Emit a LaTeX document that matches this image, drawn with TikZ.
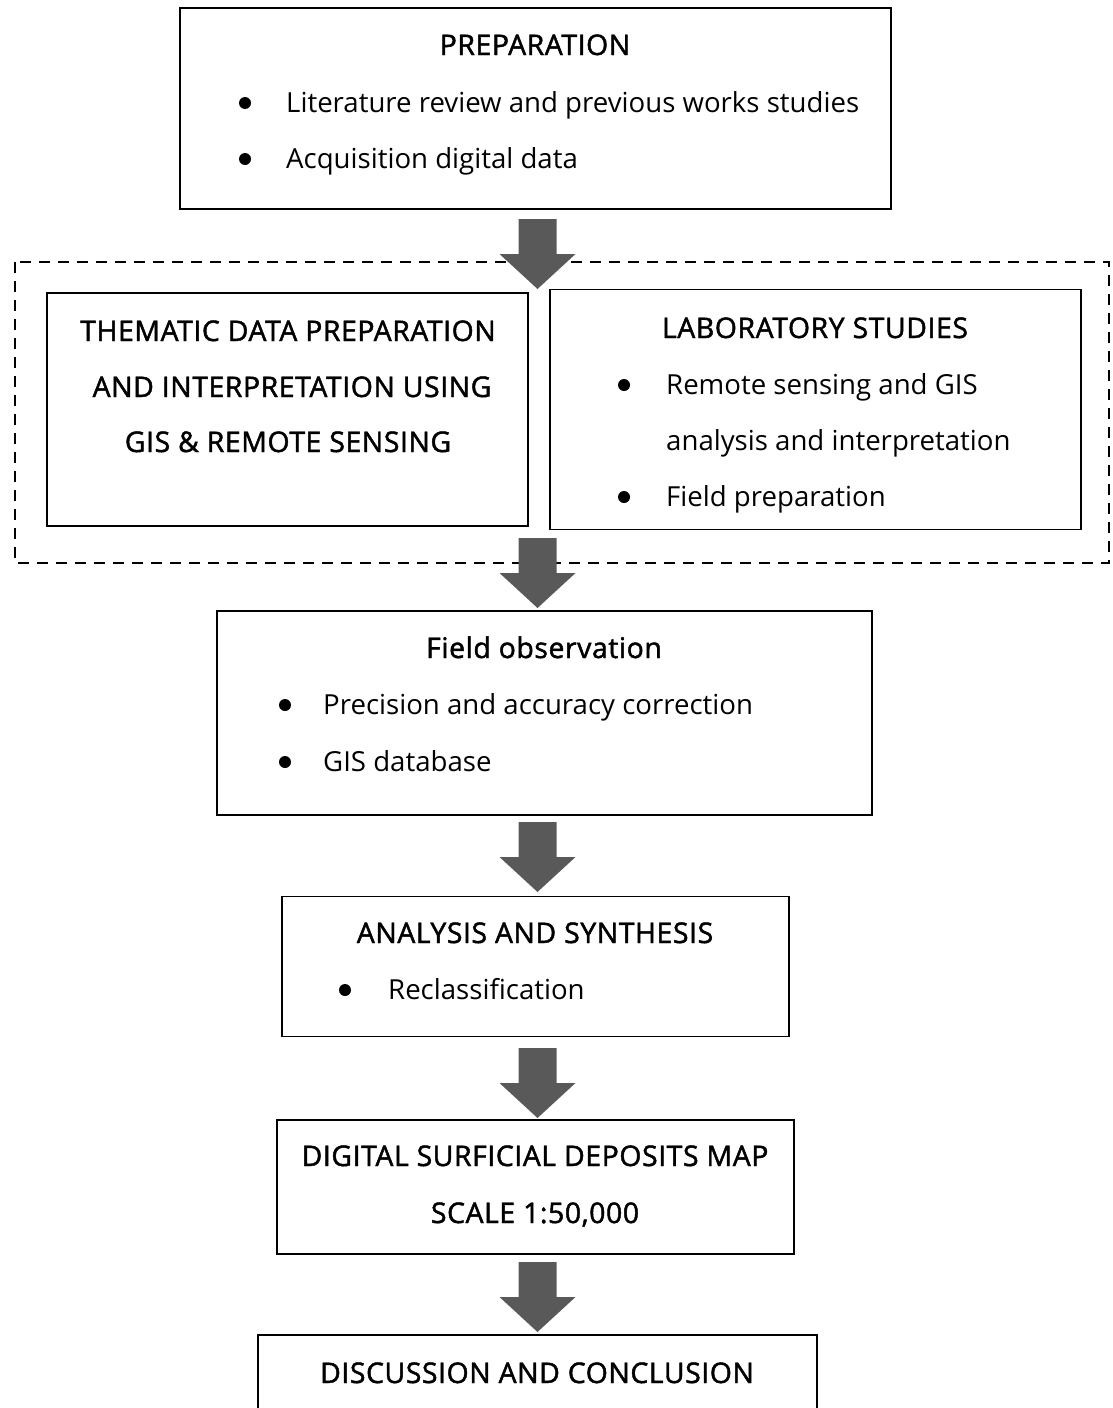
\documentclass[tikz,border=0pt]{standalone}
\usepackage{fontspec}
\setmainfont{Open Sans}
\newfontfamily\ttlfont[FakeBold=1.6,LetterSpace=2]{Open Sans}
\definecolor{arrowgray}{HTML}{595959}
\begin{document}
\begin{tikzpicture}[x=1pt,y=-1pt,
  box/.style={draw=black,line width=1.4pt,inner sep=0pt},
  dashbox/.style={draw=black,line width=2.2pt,dash pattern=on 11pt off 8pt},
  txt/.style={inner sep=0pt,font=\fontsize{27.6}{32}\selectfont},
  ttl/.style={inner sep=0pt,anchor=base,font=\ttlfont\fontsize{28.4}{32}\selectfont},
  itm/.style={txt,anchor=base west},
  dot/.style={fill=black,circle,inner sep=0pt,minimum size=12pt},
  blockarrow/.pic={\fill[arrowgray] (-19,0) -- (19,0) -- (19,35) -- (38,35) -- (0,70) -- (-38,35) -- (-19,35) -- cycle;}]
\useasboundingbox (0,0) rectangle (1113,1408);
% dashed group
\draw[dashbox] (15,262) rectangle (1109,563);
% boxes
\node[box,minimum width=711pt,minimum height=201pt] (prep) at (535.5,108.5) {};
\node[box,minimum width=481pt,minimum height=233pt] (them) at (287.5,409.5) {};
\node[box,minimum width=531pt,minimum height=240pt] (lab) at (815.5,409.5) {};
\node[box,minimum width=655pt,minimum height=204pt] (field) at (544.5,713) {};
\node[box,minimum width=507pt,minimum height=140pt] (anal) at (535.5,966.5) {};
\node[box,minimum width=517pt,minimum height=134pt] (digi) at (535.5,1187) {};
\draw[box] (258,1420) -- (258,1335) -- (817,1335) -- (817,1420);
\coordinate (disc) at (537.5,1335);
% arrows
\pic at (537.5,219) {blockarrow};
\pic at (537.5,538) {blockarrow};
\pic at (537.5,822) {blockarrow};
\pic at (537.5,1048) {blockarrow};
\pic at (537.5,1262) {blockarrow};
% preparation
\node[ttl] (t1) at (535,55) {PREPARATION};
\node[dot] (d1a) at (245,103) {};
\node[itm] (i1a) at (286,112) {Literature review and previous works studies};
\node[dot] (d1b) at (245,159) {};
\node[itm] (i1b) at (286,168) {Acquisition digital data};
% thematic
\node[ttl] (t2a) at (288,341) {THEMATIC DATA PREPARATION};
\node[ttl] (t2b) at (292,397) {AND INTERPRETATION USING};
\node[ttl] (t2c) at (288,452) {GIS \& REMOTE SENSING};
% laboratory
\node[ttl] (t3) at (815,338) {LABORATORY STUDIES};
\node[dot] (d3a) at (624,385) {};
\node[itm] (i3a) at (666,394) {Remote sensing and GIS};
\node[itm] (i3b) at (666,450) {analysis and interpretation};
\node[dot] (d3b) at (624,497) {};
\node[itm] (i3c) at (666,506) {Field preparation};
% field
\node[ttl] (t4) at (544,658) {Field observation};
\node[dot] (d4a) at (285,705) {};
\node[itm] (i4a) at (323,714) {Precision and accuracy correction};
\node[dot] (d4b) at (285,762) {};
\node[itm] (i4b) at (323,771) {GIS database};
% analysis
\node[ttl] (t5) at (535,943) {ANALYSIS AND SYNTHESIS};
\node[dot] (d5) at (345,990) {};
\node[itm] (i5) at (388,999) {Reclassification};
% digital
\node[ttl] (t6a) at (535,1166) {DIGITAL SURFICIAL DEPOSITS MAP};
\node[ttl] (t6b) at (535,1223) {SCALE 1:50,000};
% discussion
\node[ttl] (t7) at (537,1383) {DISCUSSION AND CONCLUSION};
\end{tikzpicture}
\end{document}
